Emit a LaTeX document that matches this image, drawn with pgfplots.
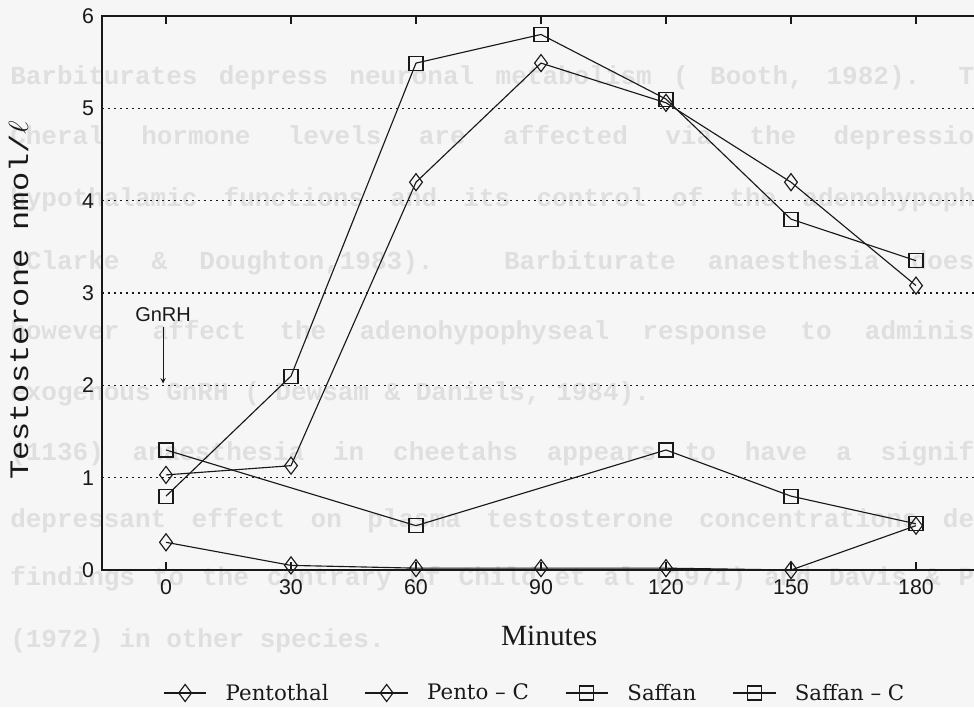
\documentclass[border=0pt]{standalone}
\usepackage{fontspec}
\usepackage{graphicx}
\usepackage{pgfplots}
\pgfplotsset{compat=1.18}
\setmainfont{Liberation Serif}
\newfontfamily\monof{Liberation Mono}
\newfontfamily\legf{DejaVu Serif}
\newfontfamily\sansf{Liberation Sans}
\definecolor{bgc}{gray}{0.965}
\definecolor{ghost}{gray}{0.875}
\definecolor{ink}{gray}{0.1}
\newcommand\jl[1]{\hbox to 723pt{\spaceskip=11.7pt plus 1fil\relax #1}}
\begin{document}
\begin{tikzpicture}
\begin{scope}[x=0.75pt,y=-0.75pt,shift={(-76.5pt,427.5pt)}]
\fill[bgc] (0,0) rectangle (974,707);
\begin{scope}[every node/.style={anchor=base west, inner sep=0pt, text=ghost, font=\monof\bfseries\fontsize{19.5}{22}\selectfont}]
\node at (10,85) {\jl{Barbiturates depress neuronal metabolism ( Booth, 1982). T}};
\node at (10,145) {\jl{Cheral hormone levels are affected via the depressio}};
\node at (10,207) {\jl{hypothalamic functions and its control of the adenohypoph}};
\node at (10,270) {\jl{(Clarke \& Doughton,1983). Barbiturate anaesthesia does}};
\node at (10,340) {\jl{however affect the adenohypophyseal response to adminis}};
\node at (10,400) {exogenous GnRH ( Dewsam \& Daniels, 1984).};
\node at (10,460) {\jl{(1136) anaesthesia in cheetahs appears to have a signif}};
\node at (10,527) {\jl{depressant effect on plasma testosterone concentrations de}};
\node at (10,585) {\jl{findings to the contrary of Child et al (1971) and Davis \& P}};
\node at (10,647) {(1972) in other species.};
\end{scope}
\end{scope}
\begin{axis}[
  at={(0pt,0pt)}, anchor=south west,
  scale only axis, width=673.5pt, height=415.5pt,
  xmin=-15.36, xmax=200.16, ymin=0, ymax=6,
  clip=false,
  axis background/.style={fill=none},
  xtick={0,30,60,90,120,150,180}, ytick={0,1,2,3,4,5,6},
  ymajorgrids,
  grid style={ink, line width=1.2pt, dash pattern=on 1.2pt off 3.3pt},
  axis line style={line width=1.3pt, ink},
  tick align=inside,
  major tick length=6pt,
  xtick style={ink, line width=0.8pt},
  ytick style={draw=none},
  /pgf/number format/assume math mode=true,
  tick label style={font=\sansf\fontsize{16}{18}\selectfont, text=ink},
  xticklabel style={yshift=-3.5pt},
  yticklabel style={xshift=-2.5pt},
  xlabel={Minutes},
  xlabel style={font=\fontsize{22}{24}\selectfont, text=ink, at={(axis description cs:0.498,-0.137)}, anchor=base},
  ylabel={\scalebox{1.2}[1]{Testosterone nmol/$\ell$}},
  ylabel style={font=\monof\fontsize{20}{22}\selectfont, text=ink, at={(axis description cs:-0.0824,0.487)}, anchor=base},
  every axis plot/.append style={line width=0.85pt, ink},
  legend columns=4,
  legend style={at={(axis description cs:0.0679,-0.222)}, anchor=west, draw=none, fill=none,
    font=\legf\fontsize{16}{18}\selectfont, text=ink, inner sep=0pt,
    nodes={inner sep=1pt},
    /tikz/every odd column/.append style={column sep=13pt},
    /tikz/every even column/.append style={column sep=26pt}},
  legend image code/.code={\draw[mark repeat=2,mark phase=2,#1] plot coordinates {(0pt,0pt)(16pt,0pt)(32pt,0pt)};},
]
\addplot[mark=diamond, mark size=6.4pt, mark options={solid, fill=bgc, line width=0.85pt}] coordinates {
(0,1.03)(30,1.13)(60,4.2)(90,5.49)(120,5.06)(150,4.2)(180,3.08)};
\addlegendentry{Pentothal}
\addplot[mark=diamond, mark size=6.4pt, mark options={solid, fill=bgc, line width=0.85pt}] coordinates {
(0,0.3)(30,0.05)(60,0.02)(90,0.02)(120,0.02)(150,0.0)(180,0.48)};
\addlegendentry{Pento – C}
\addplot[mark=square, mark size=5.25pt, mark options={solid, fill=bgc, line width=0.85pt}] coordinates {
(0,0.8)(30,2.1)(60,5.49)(90,5.8)(120,5.1)(150,3.8)(180,3.35)};
\addlegendentry{Saffan}
\addplot[mark=square, mark size=5.25pt, mark options={solid, fill=bgc, line width=0.85pt}] coordinates {
(0,1.3)(60,0.48)(120,1.3)(150,0.8)(180,0.5)};
\addlegendentry{Saffan – C}
\node[font=\sansf\fontsize{15}{17}\selectfont, text=ink] at (axis cs:-0.7,2.77) {GnRH};
\draw[ink, line width=0.8pt, -stealth] (axis cs:-0.7,2.63) -- (axis cs:-0.7,2.02);
\end{axis}
\pgfresetboundingbox
\path[use as bounding box] (-76.5pt,-102.75pt) rectangle (654pt,427.5pt);
\end{tikzpicture}
\end{document}
